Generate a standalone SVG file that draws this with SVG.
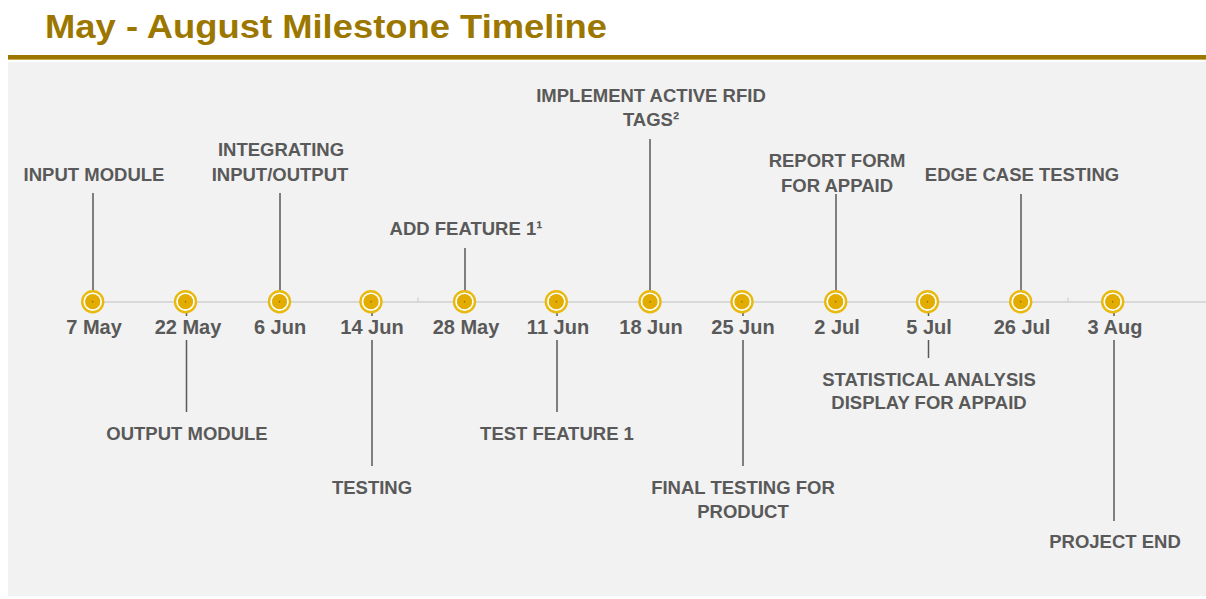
<svg xmlns="http://www.w3.org/2000/svg" width="1206" height="599" viewBox="0 0 1206 599">
  <defs>
    <style>
      .title { font-family: "Liberation Sans", Arial, sans-serif; font-weight: bold; font-size: 33px; fill: #9c7700; }
      .date { font-family: "Liberation Sans", Arial, sans-serif; font-weight: bold; font-size: 20px; fill: #595959; text-anchor: middle; }
      .lbl { font-family: "Liberation Sans", Arial, sans-serif; font-weight: bold; font-size: 18.5px; fill: #595959; text-anchor: middle; }
      .lead { stroke: #595959; stroke-width: 1.5; fill: none; }
      .ring { fill: #ffffff; stroke: #e8b90e; stroke-width: 2.4; }
      .core { fill: #e2ad00; }
      .dot { fill: #7a6000; }
      .tick { stroke: #cfcfcf; stroke-width: 1.2; }
    </style>
    <g id="ms">
      <circle class="ring" cx="0" cy="0" r="10.5"/>
      <circle class="core" cx="0" cy="0" r="7.6"/>
      <circle class="dot" cx="0" cy="0" r="0.7"/>
    </g>
  </defs>

  <rect x="0" y="0" width="1206" height="599" fill="#ffffff"/>
  <text class="title" x="45" y="38" textLength="562" lengthAdjust="spacingAndGlyphs">May - August Milestone Timeline</text>
  <rect x="8" y="55" width="1198" height="4" fill="#9c7700"/>
  <rect x="8" y="59" width="1198" height="1" fill="#c9ad55"/>
  <rect x="8" y="62" width="1198" height="534" fill="#f2f2f2"/>

  <g id="timeline">
    <line x1="93" y1="302" x2="1206" y2="302" stroke="#d9d9d9" stroke-width="2"/>
    <line class="tick" x1="418" y1="297.5" x2="418" y2="302"/>
    <line class="tick" x1="1068" y1="297.5" x2="1068" y2="302"/>
  </g>

  <g id="connectors">
    <line class="lead" x1="93" y1="193" x2="93" y2="296"/>
    <line class="lead" x1="280" y1="193" x2="280" y2="296"/>
    <line class="lead" x1="465" y1="248" x2="465" y2="296"/>
    <line class="lead" x1="650" y1="139" x2="650" y2="296"/>
    <line class="lead" x1="836" y1="194" x2="836" y2="296"/>
    <line class="lead" x1="1021" y1="194" x2="1021" y2="296"/>

    <line class="lead" x1="186.5" y1="308" x2="186.5" y2="316"/>
    <line class="lead" x1="186.5" y1="340" x2="186.5" y2="412"/>
    <line class="lead" x1="372" y1="308" x2="372" y2="316"/>
    <line class="lead" x1="372" y1="340" x2="372" y2="466"/>
    <line class="lead" x1="557" y1="308" x2="557" y2="316"/>
    <line class="lead" x1="557" y1="340" x2="557" y2="412"/>
    <line class="lead" x1="743" y1="308" x2="743" y2="316"/>
    <line class="lead" x1="743" y1="340" x2="743" y2="466"/>
    <line class="lead" x1="928.5" y1="308" x2="928.5" y2="316"/>
    <line class="lead" x1="928.5" y1="340" x2="928.5" y2="358"/>
    <line class="lead" x1="1114" y1="308" x2="1114" y2="316"/>
    <line class="lead" x1="1114" y1="340" x2="1114" y2="521"/>
  </g>

  <g id="m1"><use href="#ms" x="92.7" y="301.7"/><text class="date" x="94" y="334">7 May</text><text class="lbl" x="94" y="181">INPUT MODULE</text></g>
  <g id="m2"><use href="#ms" x="185.5" y="301.7"/><text class="date" x="188" y="334">22 May</text><text class="lbl" x="187" y="440">OUTPUT MODULE</text></g>
  <g id="m3"><use href="#ms" x="279.5" y="301.7"/><text class="date" x="280" y="334">6 Jun</text><text class="lbl" x="281" y="156">INTEGRATING</text><text class="lbl" x="280" y="181">INPUT/OUTPUT</text></g>
  <g id="m4"><use href="#ms" x="371" y="301.7"/><text class="date" x="372" y="334">14 Jun</text><text class="lbl" x="372" y="494">TESTING</text></g>
  <g id="m5"><use href="#ms" x="464.5" y="301.7"/><text class="date" x="466" y="334">28 May</text><text class="lbl" x="466" y="235">ADD FEATURE 1¹</text></g>
  <g id="m6"><use href="#ms" x="556.3" y="301.7"/><text class="date" x="558" y="334">11 Jun</text><text class="lbl" x="557" y="440">TEST FEATURE 1</text></g>
  <g id="m7"><use href="#ms" x="650" y="301.7"/><text class="date" x="651" y="334">18 Jun</text><text class="lbl" x="651" y="102">IMPLEMENT ACTIVE RFID</text><text class="lbl" x="651" y="126">TAGS²</text></g>
  <g id="m8"><use href="#ms" x="742" y="301.7"/><text class="date" x="743" y="334">25 Jun</text><text class="lbl" x="743" y="494">FINAL TESTING FOR</text><text class="lbl" x="743" y="518">PRODUCT</text></g>
  <g id="m9"><use href="#ms" x="835.7" y="301.7"/><text class="date" x="837" y="334">2 Jul</text><text class="lbl" x="837" y="167">REPORT FORM</text><text class="lbl" x="837" y="192">FOR APPAID</text></g>
  <g id="m10"><use href="#ms" x="927.5" y="301.7"/><text class="date" x="929" y="334">5 Jul</text><text class="lbl" x="929" y="386">STATISTICAL ANALYSIS</text><text class="lbl" x="929" y="409">DISPLAY FOR APPAID</text></g>
  <g id="m11"><use href="#ms" x="1020.7" y="301.7"/><text class="date" x="1022" y="334">26 Jul</text><text class="lbl" x="1022" y="181">EDGE CASE TESTING</text></g>
  <g id="m12"><use href="#ms" x="1112.7" y="301.7"/><text class="date" x="1115" y="334">3 Aug</text><text class="lbl" x="1115" y="548">PROJECT END</text></g>
</svg>
